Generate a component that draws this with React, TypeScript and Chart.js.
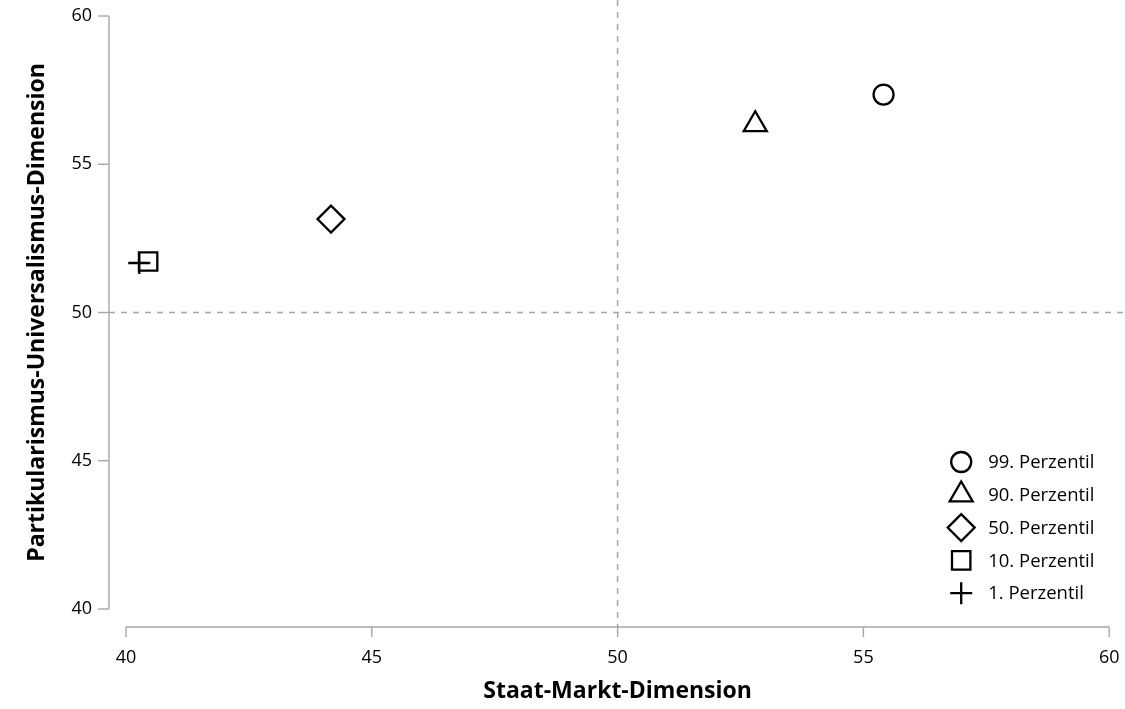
import React, { useEffect, useRef } from "react";
import { Chart, registerables } from "chart.js";
import { drawPoint } from "chart.js/helpers";

Chart.register(...registerables);

const seriesLabels = ["99. Perzentil", "90. Perzentil", "50. Perzentil", "10. Perzentil", "1. Perzentil"];
const xValues = [55.41, 52.8, 44.17, 40.45, 40.27];
const yValues = [57.35, 56.34, 53.15, 51.72, 51.67];
const markerStyles = ["circle", "triangle", "rectRot", "rect", "cross"];
const markerRadii = [10, 13.3, 13.5, 13, 11];
const xTicks = [40, 45, 50, 55, 60];
const yTicks = [40, 45, 50, 55, 60];
const referenceX = 50;
const referenceY = 50;
const xTitle = "Staat-Markt-Dimension";
const yTitle = "Partikularismus-Universalismus-Dimension";

const FONT = "'Open Sans', 'Noto Sans', sans-serif";
const AXIS_GREY = "#a6a6a6";

const axesPlugin = {
  id: "customAxes",
  beforeDatasetsDraw(chart: any) {
    const { ctx, chartArea, scales, width } = chart;
    const xs = scales.x;
    const ys = scales.y;
    const axisX = chartArea.left - 17;
    const axisY = chartArea.bottom + 18;
    ctx.save();
    ctx.strokeStyle = AXIS_GREY;
    ctx.lineWidth = 1.5;
    ctx.setLineDash([6, 6]);
    const rx = xs.getPixelForValue(referenceX);
    ctx.beginPath();
    ctx.moveTo(rx, 0);
    ctx.lineTo(rx, axisY);
    ctx.stroke();
    const ry = ys.getPixelForValue(referenceY);
    ctx.beginPath();
    ctx.moveTo(axisX, ry);
    ctx.lineTo(width, ry);
    ctx.stroke();
    ctx.setLineDash([]);
    ctx.lineWidth = 1.4;
    ctx.beginPath();
    ctx.moveTo(axisX, ys.getPixelForValue(yTicks[0]));
    ctx.lineTo(axisX, ys.getPixelForValue(yTicks[yTicks.length - 1]));
    ctx.stroke();
    yTicks.forEach((t) => {
      const p = ys.getPixelForValue(t);
      ctx.beginPath();
      ctx.moveTo(axisX - 11, p);
      ctx.lineTo(axisX, p);
      ctx.stroke();
    });
    ctx.beginPath();
    ctx.moveTo(xs.getPixelForValue(xTicks[0]), axisY);
    ctx.lineTo(xs.getPixelForValue(xTicks[xTicks.length - 1]), axisY);
    ctx.stroke();
    xTicks.forEach((t) => {
      const p = xs.getPixelForValue(t);
      ctx.beginPath();
      ctx.moveTo(p, axisY);
      ctx.lineTo(p, axisY + 10);
      ctx.stroke();
    });
    ctx.restore();
  },
};

const legendPlugin = {
  id: "customLegend",
  afterDraw(chart: any) {
    const { ctx, chartArea } = chart;
    const markerX = chartArea.right - 148;
    const textX = markerX + 27;
    const startY = chartArea.bottom - 147;
    const step = 32.8;
    ctx.save();
    chart.data.datasets.forEach((ds: any, i: number) => {
      const y = startY + i * step;
      ctx.strokeStyle = "#000";
      ctx.fillStyle = "rgba(0,0,0,0)";
      ctx.lineWidth = 2.3;
      drawPoint(ctx, { pointStyle: ds.pointStyle, radius: ds.pointRadius, rotation: 0, borderWidth: 2.3 }, markerX, y);
      ctx.fillStyle = "#000";
      ctx.font = `18.5px ${FONT}`;
      ctx.textAlign = "left";
      ctx.textBaseline = "middle";
      ctx.fillText(ds.label, textX, y + 1);
    });
    ctx.restore();
  },
};

export default function App() {
  const canvasRef = useRef<HTMLCanvasElement | null>(null);

  useEffect(() => {
    const canvas = canvasRef.current;
    if (!canvas) return;
    const datasets = seriesLabels.map((label, i) => ({
      label,
      data: [{ x: xValues[i], y: yValues[i] }],
      pointStyle: markerStyles[i],
      pointRadius: markerRadii[i],
      pointHoverRadius: markerRadii[i],
      borderColor: "#000",
      backgroundColor: "rgba(0,0,0,0)",
      pointBorderWidth: 2.3,
      borderWidth: 2.3,
    }));
    const chart = new Chart(canvas, {
      type: "scatter",
      data: { datasets } as any,
      options: {
        animation: false,
        responsive: false,
        devicePixelRatio: 1,
        layout: { padding: { top: 16, right: 15, left: 0, bottom: 0 } },
        plugins: { legend: { display: false }, tooltip: { enabled: false } },
        scales: {
          x: {
            type: "linear",
            min: xTicks[0],
            max: xTicks[xTicks.length - 1],
            afterBuildTicks: (s: any) => {
              s.ticks = xTicks.map((v) => ({ value: v }));
            },
            afterFit: (s: any) => {
              s.height = 100;
              s.paddingLeft = 0;
              s.paddingRight = 0;
            },
            grid: { display: false, drawTicks: false },
            border: { display: false },
            ticks: { font: { family: FONT, size: 18 }, color: "#000", padding: 38, maxRotation: 0 },
            title: {
              display: true,
              text: xTitle,
              font: { family: FONT, size: 23, weight: "bold" },
              color: "#000",
              padding: { top: 0, bottom: 4 },
            },
          },
          y: {
            type: "linear",
            min: yTicks[0],
            max: yTicks[yTicks.length - 1],
            afterBuildTicks: (s: any) => {
              s.ticks = yTicks.map((v) => ({ value: v }));
            },
            afterFit: (s: any) => {
              s.width = 126;
              s.paddingTop = 0;
              s.paddingBottom = 0;
            },
            grid: { display: false, drawTicks: false },
            border: { display: false },
            ticks: { font: { family: FONT, size: 18 }, color: "#000", padding: 34 },
            title: {
              display: true,
              text: yTitle,
              font: { family: FONT, size: 23, weight: "bold" },
              color: "#000",
              padding: { top: 24, bottom: 0 },
            },
          },
        },
      } as any,
      plugins: [axesPlugin, legendPlugin],
    });
    return () => chart.destroy();
  }, []);

  return (
    <div style={{ position: "fixed", left: 0, top: 0, width: 1125, height: 709, background: "#fff" }}>
      <canvas ref={canvasRef} width={1125} height={709} style={{ width: 1125, height: 709 }} />
    </div>
  );
}
